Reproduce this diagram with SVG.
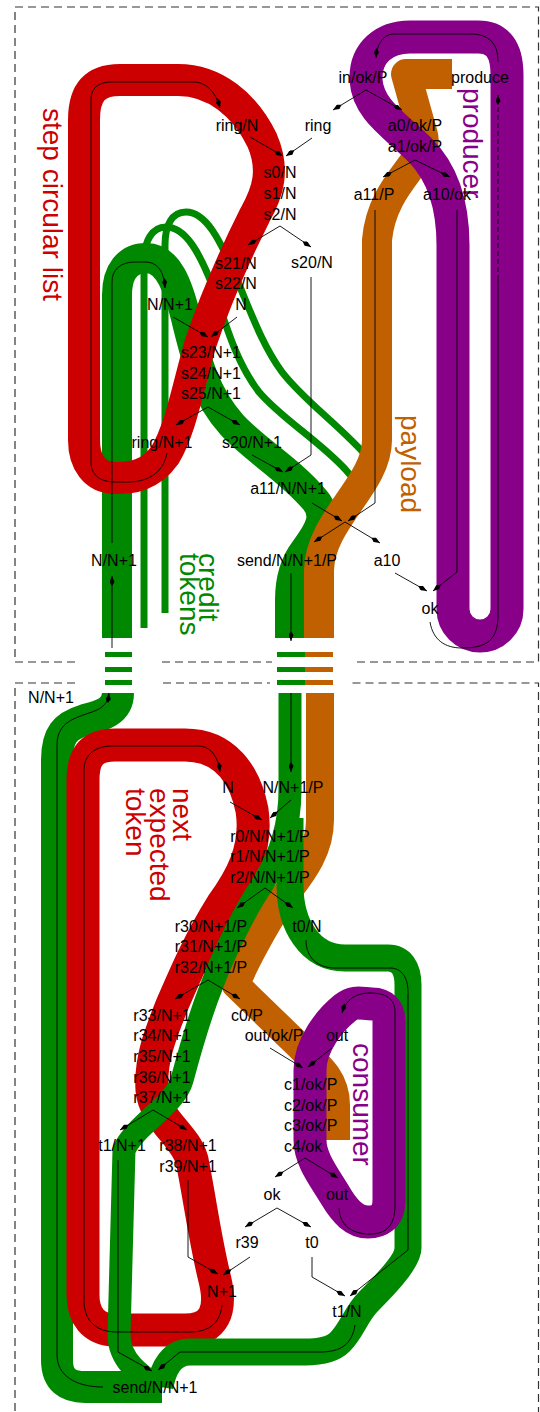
<svg xmlns="http://www.w3.org/2000/svg" width="540" height="1412" viewBox="0 0 540 1412">
<defs>
<style>
.box{fill:none;stroke:#333;stroke-width:1.2;stroke-dasharray:8,5}
.band{fill:none;stroke-linecap:butt;stroke-linejoin:round}
.r{stroke:#cc0000}
.g{stroke:#008800}
.p{stroke:#880088}
.o{stroke:#c06000}
.ln{fill:none;stroke:#000;stroke-width:0.9}
.ar{fill:none;stroke:#000;stroke-width:0.9;marker-end:url(#ah)}
.t{font-family:"Liberation Sans",Arial,sans-serif;font-size:16px;fill:#000;text-anchor:middle}
.ts{font-family:"Liberation Sans",Arial,sans-serif;font-size:16px;fill:#000}
.big{font-family:"Liberation Sans",Arial,sans-serif;font-size:28px}
</style>
<marker id="ah" viewBox="0 0 10 5" refX="10" refY="2.5" markerWidth="10" markerHeight="5" markerUnits="userSpaceOnUse" orient="auto"><path d="M0,2.5 L4,0 L10,2.5 L4,5 Z" fill="#000"/></marker>
</defs>
<rect width="540" height="1412" fill="#fff"/>
<g id="frames">
<path class="box" d="M75,662 L15,662 L15,7 L538.5,7 L538.5,662 L352,662 M162,662 L272,662"/>
<path class="box" d="M75,683 L15,683 L15,1415 M538.5,1415 L538.5,683 L349,683 M163,683 L270,683"/>
</g>
<g id="bands-top">
<path class="band g" stroke-width="7" d="M165,613 L165,245 C165,225 172,212 186,212 C206,212 220,240 235,275 C250,310 262,345 282,372 C305,402 340,425 372,462"/>
<path class="band g" stroke-width="7" d="M144,628 L144,262 C144,241 152,227 166,227 C186,227 200,254 213,287 C226,325 236,362 259,392 C282,419 317,439 345,469 L358,484"/>
<path class="band g" stroke-width="30" d="M117,638 L117,295 C117,272 128,258 146,258 C168,258 178,285 186,318 C196,360 205,395 232,425 C255,450 290,470 315,500 C328,515 320,530 305,550 C295,563 290,580 290,600 L290,638"/>
<path class="band o" stroke-width="30" d="M452,74 L406,74 L423,135 C430,160 382,182 377,240 L377,440 C377,485 320,520 319,570 L319,638"/>
<path class="band r" stroke-width="32" d="M84,120 C84,92 95,80 120,80 L178,80 C215,80 245,105 262,140 C275,170 268,192 255,215 C235,255 215,300 200,345 C186,395 180,430 165,455 C150,476 132,478 115,478 C95,478 84,462 84,440 Z"/>
<path class="band p" stroke-width="33" d="M453,609 L453,245 C453,200 440,170 420,150 C395,125 368,110 366,80 C365,52 385,37 410,37 L478,37 C498,37 507,50 507,75 L507,609 A27,27 0 0 1 453,609 Z"/>
<g fill="#008800"><rect x="105" y="652" width="27" height="5"/><rect x="105" y="667" width="27" height="5"/><rect x="105" y="680" width="27" height="5"/>
<rect x="277" y="652" width="28" height="5"/><rect x="277" y="667" width="28" height="5"/><rect x="277" y="680" width="28" height="5"/></g>
<g fill="#c06000"><rect x="305" y="652" width="28" height="5"/><rect x="305" y="667" width="28" height="5"/><rect x="305" y="680" width="28" height="5"/></g>
</g>
<g id="bands-bottom">
<path class="band g" stroke-width="32" d="M118,693 C118,712 100,716 85,720 C65,726 57,735 57,760 L57,1360 C57,1380 68,1387 85,1387 L162,1387"/>
<path class="band r" stroke-width="33" d="M83,780 C83,755 93,745 115,745 L185,745 C225,745 245,775 252,810 C258,850 240,880 222,905 C200,940 185,975 172,1005 C160,1035 150,1060 152,1090 C155,1120 185,1135 192,1160 C200,1200 205,1240 215,1280 C222,1310 215,1330 185,1330 L115,1330 C93,1330 83,1315 83,1295 Z"/>
<path class="band o" stroke-width="28" d="M320,693 L320,820 C320,860 290,885 275,910 C262,932 245,960 236,985 L298,1045 C322,1068 336,1080 336,1105 L336,1140"/>
<path class="band g" stroke-width="23" d="M290,693 L290,790 C290,830 278,860 262,885 C248,905 225,950 212,985 C200,1015 190,1050 182,1080 C175,1105 135,1125 124,1150 L119,1335 C119,1360 140,1375 158,1387"/>
<path class="band g" stroke-width="27" d="M290,818 L290,885 C290,925 310,958 345,958 L388,958 C401,958 408,968 408,985 L408,1248 C408,1262 380,1290 368,1302 C356,1314 352,1330 340,1342 C333,1349 322,1352 305,1352 L190,1352 C172,1352 163,1368 160,1387"/>
<path class="band p" stroke-width="33" d="M310,1140 L310,1070 C310,1045 330,1020 345,1008 C355,1000 362,1004 372,1004 C383,1004 389,1010 389,1022 L389,1200 C389,1218 378,1222 368,1222 C355,1222 345,1212 335,1195 C325,1178 310,1160 310,1140 Z"/>
</g>
<g id="titles">
<text class="big" fill="#cc0000" transform="translate(43,108) rotate(90)">step circular list</text>
<text class="big" fill="#880088" transform="translate(463,88) rotate(90)">producer</text>
<text class="big" fill="#c06000" transform="translate(401,415) rotate(90)">payload</text>
<text class="big" fill="#008800" transform="translate(199,553) rotate(90)">credit</text>
<text class="big" fill="#008800" transform="translate(180,553) rotate(90)">tokens</text>
<text class="big" fill="#cc0000" transform="translate(173,788) rotate(90)">next</text>
<text class="big" fill="#cc0000" transform="translate(150,788) rotate(90)">expected</text>
<text class="big" fill="#cc0000" transform="translate(126,788) rotate(90)">token</text>
<text class="big" fill="#880088" transform="translate(353,1043) rotate(90)">consumer</text>
</g>
<g id="connectors">
<path class="ar" d="M366,90 L333,110"/>
<path class="ar" d="M366,90 L402,110"/>
<path class="ar" d="M312,138 L286,156"/>
<path class="ar" d="M250,137 L283,156"/>
<path class="ar" d="M415,160 L383,177"/>
<path class="ar" d="M415,160 L450,177"/>
<path class="ar" d="M280,226 L248,245"/>
<path class="ar" d="M280,226 L311,247"/>
<path class="ar" d="M173,317 L208,337"/>
<path class="ar" d="M237,317 L211,337"/>
<path class="ar" d="M208,407 L176,425"/>
<path class="ar" d="M208,407 L240,425"/>
<path class="ar" d="M311,277 L311,455 L285,472"/>
<path class="ar" d="M252,455 L283,472"/>
<path class="ar" d="M312,503 L342,521"/>
<path class="ar" d="M375,210 L375,503 L348,521"/>
<path class="ar" d="M345,522 L314,542"/>
<path class="ar" d="M345,522 L380,543"/>
<path class="ar" d="M291,573 L291,641"/>
<path class="ar" d="M395,573 L427,591"/>
<path class="ar" d="M457,210 L457,572 L433,591"/>
<path class="ln" d="M430,622 C433,640 445,648 462,648 C487,648 498,640 498,615 L498,280"/>
<path class="ar" stroke-dasharray="5,3" d="M498,280 L498,95"/>
<path class="ar" d="M498,62 C498,44 490,34 470,34 L395,34 C383,34 377,44 376,58"/>
<path class="ar" d="M167,453 C163,475 145,482 128,482 L115,482 C100,482 91,475 91,462 L91,100 C91,88 98,82 112,82 L193,82 C205,82 215,90 220,108"/>
<path class="ar" d="M112,543 L112,282 C112,270 120,262 135,262 L145,262 C158,262 164,272 165,288"/>
<path class="ar" d="M112,648 L112,576"/>
<path class="ar" d="M103,1387 C75,1387 57,1375 57,1355 L57,745 C57,722 75,718 92,712 C104,708 108,702 109,693"/>
<path class="ar" d="M222,1305 C220,1325 207,1332 190,1332 L117,1332 C95,1332 84,1320 84,1300 L84,770 C84,755 95,746 112,746 L198,746 C210,746 218,756 220,772"/>
<path class="ar" d="M291,693 L291,772"/>
<path class="ar" d="M230,802 L262,820"/>
<path class="ar" d="M291,800 L270,818"/>
<path class="ar" d="M265,888 L237,908"/>
<path class="ar" d="M265,888 L293,908"/>
<path class="ar" d="M208,980 L175,999"/>
<path class="ar" d="M208,980 L240,999"/>
<path class="ar" d="M270,1048 L303,1068"/>
<path class="ar" d="M332,1048 L308,1067"/>
<path class="ar" d="M305,1158 L275,1177"/>
<path class="ar" d="M305,1158 L338,1178"/>
<path class="ar" d="M277,1208 L245,1227"/>
<path class="ar" d="M277,1208 L311,1227"/>
<path class="ar" d="M188,1180 L188,1257 L218,1274"/>
<path class="ar" d="M250,1257 L223,1275"/>
<path class="ar" d="M312,1257 L312,1277 L345,1296"/>
<path class="ar" d="M306,940 C306,958 318,968 335,968 L390,968 C402,968 408,978 408,992 L408,1250 L350,1296"/>
<path class="ar" d="M355,1325 C352,1345 340,1352 320,1352 L180,1352 L158,1370"/>
<path class="ar" d="M118,1160 L118,1352 L152,1371"/>
<path class="ar" d="M153,1110 L120,1130"/>
<path class="ar" d="M153,1110 L187,1130"/>
<path class="ar" d="M339,1208 C340,1228 355,1234 370,1234 C387,1234 395,1225 395,1205 L395,1012 C395,998 385,993 370,993 C355,993 346,1000 342,1013"/>
</g>
<g id="n-in"><text class="t" x="363" y="83">in/ok/P</text></g>
<g id="n-produce"><text class="t" x="480" y="83">produce</text></g>
<g id="n-ring"><text class="t" x="318" y="131">ring</text></g>
<g id="n-a0"><text class="t" x="415" y="131">a0/ok/P</text></g>
<g id="n-a1"><text class="t" x="415" y="152">a1/ok/P</text></g>
<g id="n-ringN"><text class="t" x="237" y="131">ring/N</text></g>
<g id="n-s0"><text class="t" x="280" y="178">s0/N</text><text class="t" x="280" y="199">s1/N</text><text class="t" x="280" y="220">s2/N</text></g>
<g id="n-a11P"><text class="t" x="374" y="200">a11/P</text></g>
<g id="n-a10ok"><text class="t" x="447" y="200">a10/ok</text></g>
<g id="n-s20N"><text class="t" x="312" y="268">s20/N</text></g>
<g id="n-s21"><text class="t" x="236" y="269">s21/N</text><text class="t" x="236" y="289">s22/N</text><text class="t" x="241" y="310">N</text></g>
<g id="n-NN1a"><text class="t" x="170" y="310">N/N+1</text></g>
<g id="n-s23"><text class="t" x="211" y="358">s23/N+1</text><text class="t" x="211" y="379">s24/N+1</text><text class="t" x="211" y="399">s25/N+1</text></g>
<g id="n-ringN1"><text class="t" x="162" y="448">ring/N+1</text></g>
<g id="n-s20N1"><text class="t" x="252" y="448">s20/N+1</text></g>
<g id="n-a11NN1"><text class="t" x="288" y="494">a11/N/N+1</text></g>
<g id="n-sendP"><text class="t" x="287" y="566">send/N/N+1/P</text></g>
<g id="n-a10"><text class="t" x="387" y="566">a10</text></g>
<g id="n-ok1"><text class="t" x="430" y="614">ok</text></g>
<g id="n-NN1b"><text class="t" x="114" y="566">N/N+1</text></g>
<g id="n-NN1c"><text class="t" x="51" y="703">N/N+1</text></g>
<g id="n-N2"><text class="t" x="228" y="793">N</text></g>
<g id="n-NN1P"><text class="t" x="293" y="793">N/N+1/P</text></g>
<g id="n-r0"><text class="t" x="270" y="842">r0/N/N+1/P</text><text class="t" x="270" y="862">r1/N/N+1/P</text><text class="t" x="270" y="883">r2/N/N+1/P</text></g>
<g id="n-t0N"><text class="t" x="307" y="932">t0/N</text></g>
<g id="n-r30"><text class="t" x="211" y="932">r30/N+1/P</text><text class="t" x="211" y="952">r31/N+1/P</text><text class="t" x="211" y="973">r32/N+1/P</text></g>
<g id="n-r33"><text class="t" x="162" y="1021">r33/N+1</text><text class="t" x="162" y="1041">r34/N+1</text><text class="t" x="162" y="1062">r35/N+1</text><text class="t" x="162" y="1083">r36/N+1</text><text class="t" x="162" y="1103">r37/N+1</text></g>
<g id="n-c0"><text class="t" x="247" y="1021">c0/P</text></g>
<g id="n-outokP"><text class="t" x="274" y="1041">out/ok/P</text></g>
<g id="n-out1"><text class="t" x="337" y="1041">out</text></g>
<g id="n-c1"><text class="ts" x="284" y="1090">c1/ok/P</text><text class="ts" x="284" y="1111">c2/ok/P</text><text class="ts" x="284" y="1131">c3/ok/P</text><text class="ts" x="284" y="1152">c4/ok</text></g>
<g id="n-t1N1"><text class="t" x="122" y="1151">t1/N+1</text></g>
<g id="n-r38"><text class="t" x="188" y="1151">r38/N+1</text><text class="t" x="188" y="1172">r39/N+1</text></g>
<g id="n-ok2"><text class="t" x="272" y="1200">ok</text></g>
<g id="n-out2"><text class="t" x="337" y="1200">out</text></g>
<g id="n-r39"><text class="t" x="247" y="1248">r39</text></g>
<g id="n-t0"><text class="t" x="312" y="1248">t0</text></g>
<g id="n-N1"><text class="t" x="222" y="1297">N+1</text></g>
<g id="n-t1N"><text class="t" x="347" y="1317">t1/N</text></g>
<g id="n-send"><text class="t" x="155" y="1393">send/N/N+1</text></g>
</svg>
